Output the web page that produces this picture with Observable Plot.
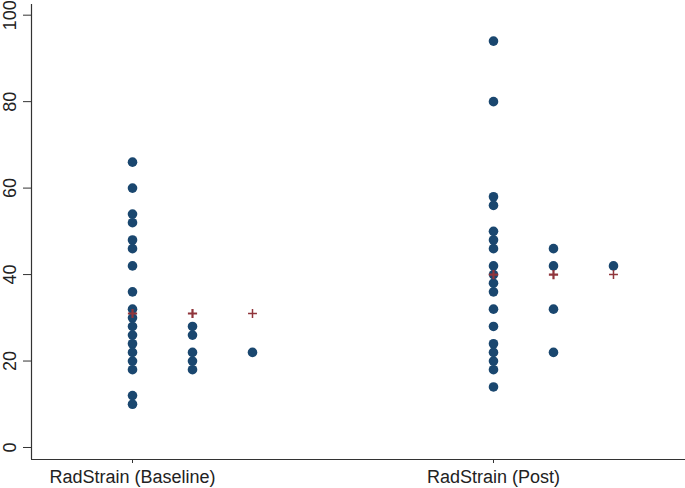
<!DOCTYPE html>
<html>
<head>
<meta charset="utf-8">
<script src="https://cdn.jsdelivr.net/npm/d3@7"></script>
<script src="https://cdn.jsdelivr.net/npm/@observablehq/plot@0.6"></script>
<style>
  html, body { margin: 0; padding: 0; background: #fff; }
</style>
</head>
<body>
<div id="chart"></div>
<script>
const groups = ["RadStrain (Baseline)", "RadStrain (Post)"];
const yTicks = [0, 20, 40, 60, 80, 100];

// three dot columns per group
const baselineCol1 = [66, 60, 54, 52, 48, 46, 42, 36, 32, 30, 28, 26, 24, 22, 20, 18, 12, 10];
const baselineCol2 = [28, 26, 22, 20, 18];
const baselineCol3 = [22];
const postCol1 = [94, 80, 58, 56, 50, 48, 46, 42, 40, 38, 36, 32, 28, 24, 22, 20, 18, 14];
const postCol2 = [46, 42, 32, 22];
const postCol3 = [42];
const groupMeans = [31, 40];

const columnOffset = 0.1662;
const series = [
  [baselineCol1, baselineCol2, baselineCol3],
  [postCol1, postCol2, postCol3]
];

const dots = [];
const means = [];
series.forEach((cols, g) => {
  cols.forEach((vals, c) => {
    vals.forEach(v => dots.push({g, c, y: v}));
    means.push({g, c, y: groupMeans[g]});
  });
});
const xPos = d => d.g + d.c * columnOffset;

const xDomain = [-0.2798, 1.5319];
const yDomain = [-2.776, 102.47];

const chart = Plot.plot({
  width: 685,
  height: 488,
  marginLeft: 31,
  marginRight: 0,
  marginTop: 4,
  marginBottom: 29,
  style: {fontFamily: "'Liberation Sans', Arial, sans-serif", fontSize: "18px", color: "#222", background: "#fff"},
  x: {domain: xDomain, axis: null},
  y: {domain: yDomain, axis: null},
  marks: [
    Plot.axisY({ticks: yTicks, tickSize: 8, tickPadding: 8, tickRotate: -90, label: null, stroke: "#333", fill: "#222"}),
    Plot.axisX({ticks: [0, 1], tickFormat: i => groups[i], tickSize: 4, tickPadding: 7, label: null, stroke: "#333", fill: "#222"}),
    Plot.ruleX([xDomain[0]], {stroke: "#333", strokeWidth: 1.2}),
    Plot.ruleY([yDomain[0]], {stroke: "#333", strokeWidth: 1.2}),
    Plot.dot(dots, {x: xPos, y: "y", r: 4.8, fill: "#1a476f", stroke: "none"}),
    Plot.dot(means, {x: xPos, y: "y", symbol: "plus", r: d => d.c < 2 ? 3.3 : 3.1, stroke: "#90353b", strokeWidth: d => d.c < 2 ? 2.2 : 1.5})
  ]
});
document.getElementById("chart").appendChild(chart);
</script>
</body>
</html>
